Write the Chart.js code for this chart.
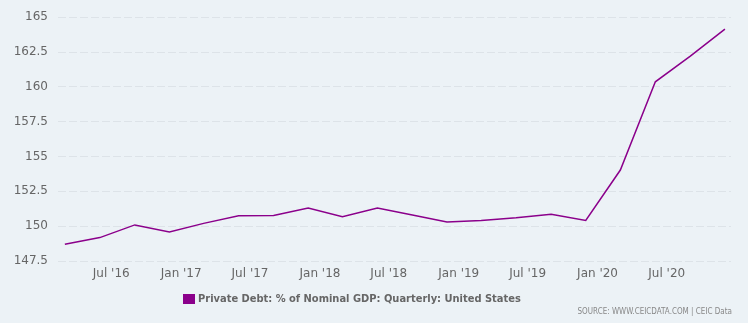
<!DOCTYPE html>
<html>
<head>
<meta charset="utf-8">
<script src="https://cdn.jsdelivr.net/npm/chart.js@4.4.1/dist/chart.umd.min.js"></script>
<style>
  html, body { margin: 0; padding: 0; background: #ecf2f6; }
  #wrap { width: 748px; height: 323px; position: relative; }
</style>
</head>
<body>
<div id="wrap"><canvas id="graphCanvas"></canvas></div>
<script>
// quarterly data, Mar 2016 - Dec 2020
const quarters = ["2016-03", "2016-06", "2016-09", "2016-12", "2017-03", "2017-06", "2017-09", "2017-12",
  "2018-03", "2018-06", "2018-09", "2018-12", "2019-03", "2019-06", "2019-09", "2019-12",
  "2020-03", "2020-06", "2020-09", "2020-12"];
const debtValues = [148.7, 149.18, 150.09, 149.59, 150.2, 150.74, 150.76, 151.3,
  150.67, 151.3, 150.8, 150.3, 150.4, 150.6, 150.86, 150.41,
  154.03, 160.36, 162.2, 164.14];
const tickDates = ["2016-07", "2017-01", "2017-07", "2018-01", "2018-07", "2019-01", "2019-07", "2020-01", "2020-07"];
const tickLabels = ["Jul '16", "Jan '17", "Jul '17", "Jan '18", "Jul '18", "Jan '19", "Jul '19", "Jan '20", "Jul '20"];
const yTicks = [147.5, 150, 152.5, 155, 157.5, 160, 162.5, 165];
const seriesName = "Private Debt: % of Nominal GDP: Quarterly: United States";
const sourceText = "SOURCE: WWW.CEICDATA.COM | CEIC Data";

// "YYYY-MM" -> days since epoch
function toDay(s) {
  let p = s.split("-");
  return Date.UTC(+p[0], +p[1] - 1, 1) / 864e5;
}

const points = quarters.map((q, i) => ({ x: toDay(q), y: debtValues[i] }));

// legend + source text
const footer = {
  id: "footer",
  afterDraw(chart) {
    let c = chart.ctx;
    c.save();
    c.fillStyle = "#8b008b";
    c.fillRect(183, 294, 12, 10);
    c.fillStyle = "#666";
    c.font = "bold 11px 'DejaVu Sans Condensed', 'DejaVu Sans'";
    c.textBaseline = "middle";
    c.fillText(seriesName, 198, 299);
    c.font = "8px 'DejaVu Sans Condensed', 'DejaVu Sans'";
    c.fillStyle = "#888";
    c.textAlign = "right";
    c.fillText(sourceText, 732, 312);
    c.restore();
  },
};

let ctx = document.getElementById("graphCanvas").getContext("2d");
let graphChart = new Chart(ctx, {
  type: "line",
  data: {
    datasets: [
      {
        label: seriesName,
        data: points,
        borderColor: "#8b008b",
        borderWidth: 1.5,
        pointRadius: 0,
        tension: 0,
      },
    ],
  },
  options: {
    animation: false,
    responsive: true,
    maintainAspectRatio: false,
    layout: { padding: { top: 14, right: 17, left: 0, bottom: 0 } },
    plugins: { legend: { display: false }, tooltip: { enabled: false } },
    scales: {
      x: {
        type: "linear",
        min: toDay("2016-03") - 18,
        max: toDay("2020-12") + 16,
        grid: { display: false, drawTicks: false },
        border: { display: false },
        afterBuildTicks: (axis) => {
          axis.ticks = tickDates.map((d) => ({ value: toDay(d) }));
        },
        afterFit: (axis) => { axis.height = 62; },
        ticks: {
          autoSkip: false,
          maxRotation: 0,
          padding: 6,
          color: "#666",
          font: { family: "'DejaVu Sans'", size: 12 },
          callback: (v, i) => tickLabels[i],
        },
      },
      y: {
        min: 147.5,
        max: 165,
        grid: { color: "#dde3e8", drawTicks: false },
        border: { display: false, dash: [8, 3] },
        afterBuildTicks: (axis) => {
          axis.ticks = yTicks.map((v) => ({ value: v }));
        },
        afterFit: (axis) => { axis.width = 58; },
        ticks: {
          padding: 10,
          color: "#666",
          font: { family: "'DejaVu Sans'", size: 12 },
          callback: (v) => String(v),
        },
      },
    },
  },
  plugins: [footer],
});
</script>
</body>
</html>
